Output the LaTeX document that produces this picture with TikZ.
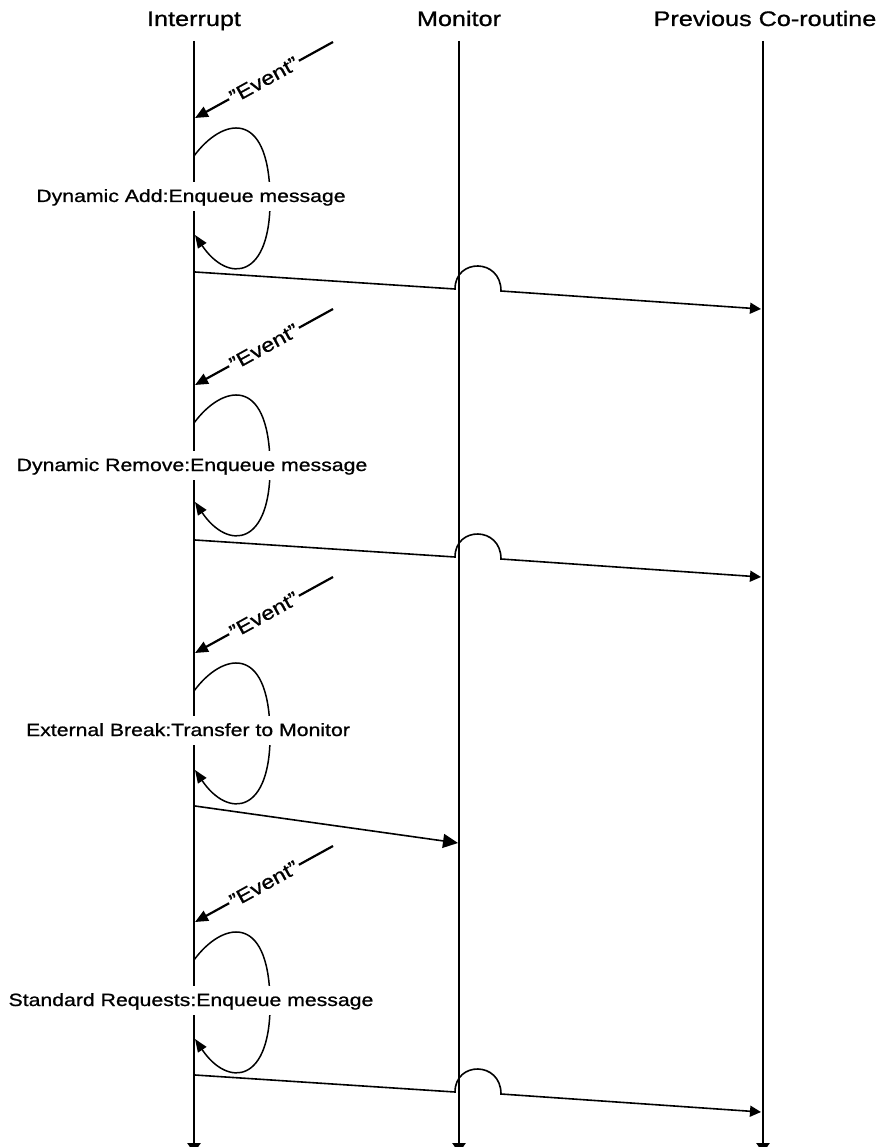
\documentclass[tikz,border=0pt]{standalone}
\usepackage{fontspec}
\setmainfont{Liberation Sans}[FakeStretch=1.2,FakeBold=0.9]
\usetikzlibrary{arrows.meta}
\begin{document}
\begin{tikzpicture}[x=1pt,y=-1pt,
  lifeline/.style={line width=2.6pt, -{Triangle[length=10pt,width=13pt]}},
  head/.style={font=\fontsize{21}{24}\selectfont, anchor=base, inner sep=0pt},
  evt/.style={line width=2.2pt, -{Triangle[length=13pt,width=11pt]}},
  evlabel/.style={sloped, fill=white, inner xsep=2pt, inner ysep=2pt,
    font=\fontsize{19.5}{22}\selectfont},
  selfloop/.style={line width=1.5pt, -{Triangle[length=13pt,width=10pt]}},
  actlabel/.style={fill=white, anchor=base, inner xsep=2pt, inner ysep=1pt,
    text height=19pt, text depth=8pt, font=\fontsize{17.7}{20}\selectfont},
  msg/.style={line width=1.6pt, -{Triangle[length=11pt,width=11pt]}},
  bigmsg/.style={line width=1.6pt, -{Triangle[length=15pt,width=14pt]}}]
\useasboundingbox (0,0) rectangle (888,1147);

% column headings
\node[head] (hInt)  at (194,26) {Interrupt};
\node[head] (hMon)  at (459,26) {Monitor};
\node[head] (hPrev) at (765,26) {Previous Co-routine};

% lifelines
\coordinate (intTop)  at (194,41);  \coordinate (intBot)  at (194,1153);
\coordinate (monTop)  at (459,41);  \coordinate (monBot)  at (459,1153);
\coordinate (prevTop) at (763,41);  \coordinate (prevBot) at (763,1153);
\draw[lifeline] (intTop) -- (intBot);
\draw[lifeline] (monTop) -- (monBot);
\draw[lifeline] (prevTop) -- (prevBot);

% incoming events and self loops on the interrupt line
\foreach \i/\d in {1/0,2/267,3/535,4/804} {
  \begin{scope}[shift={(0,\d)}]
    \coordinate (evS\i) at (333,42);
    \coordinate (evT\i) at (195,118);
    \draw[evt] (evS\i) -- node[evlabel] {"Event"} (evT\i);
    \coordinate (lpS\i) at (194,156);
    \coordinate (lpE\i) at (195,235);
    \draw[selfloop] (lpS\i) .. controls (222,118) and (268,108) .. (270,195)
      .. controls (272,280) and (228,284) .. (lpE\i);
  \end{scope}
}

% handler labels
\node[actlabel] (lab1) at (191,202)  {Dynamic Add:Enqueue message};
\node[actlabel] (lab2) at (192,471)  {Dynamic Remove:Enqueue message};
\node[actlabel] (lab3) at (188,736)  {External Break:Transfer to Monitor};
\node[actlabel] (lab4) at (191,1006) {Standard Requests:Enqueue message};

% messages hopping over the monitor line to the previous co-routine
\foreach \i/\d in {1/0,2/268,4/803} {
  \begin{scope}[shift={(0,\d)}]
    \coordinate (mA\i) at (195,272);
    \coordinate (mB\i) at (455,289);
    \coordinate (mC\i) at (501,291);
    \coordinate (mD\i) at (761,309);
    \draw[msg] (mA\i) -- (mB\i) .. controls (455,258) and (501,258) .. (mC\i) -- (mD\i);
  \end{scope}
}

% transfer to the monitor
\coordinate (mA3) at (195,806);
\coordinate (mD3) at (458,843);
\draw[bigmsg] (mA3) -- (mD3);
\end{tikzpicture}
\end{document}
